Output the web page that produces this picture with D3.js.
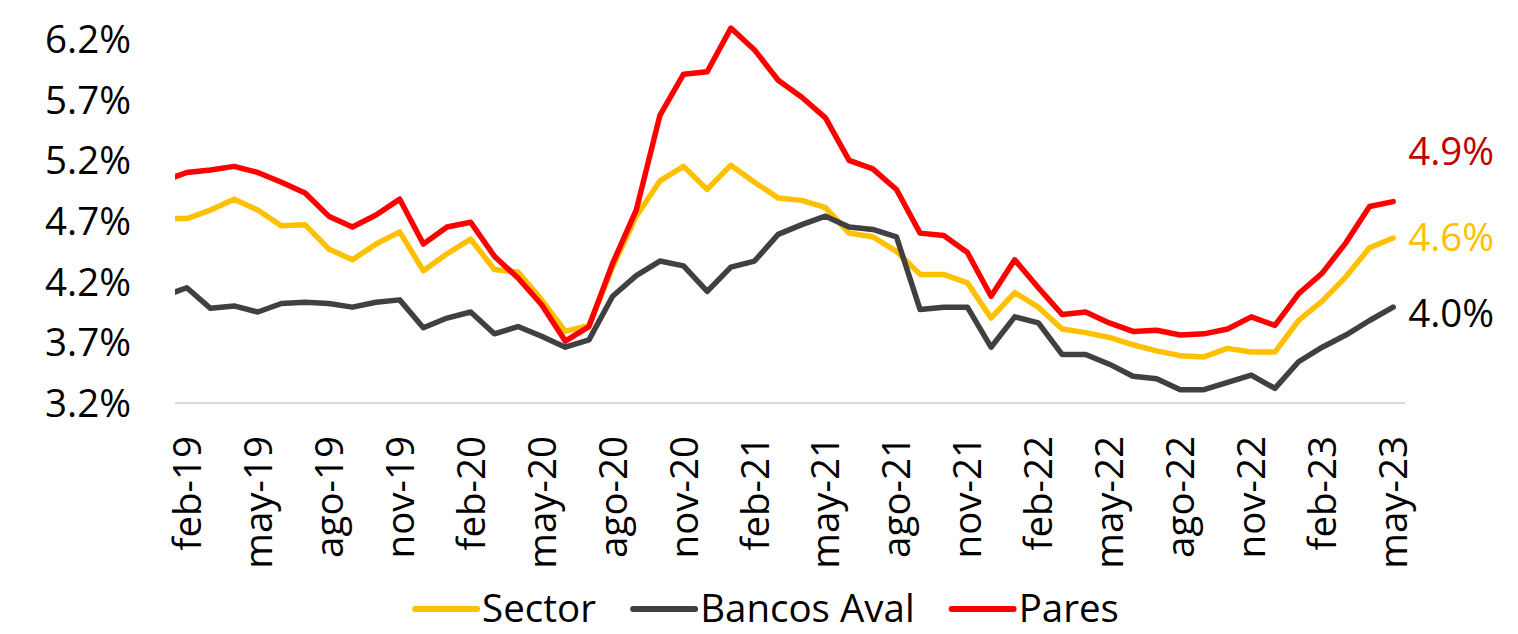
<!DOCTYPE html>
<html>
<head>
<meta charset="utf-8">
<script src="https://cdnjs.cloudflare.com/ajax/libs/d3/7.8.5/d3.min.js"></script>
<style>
    body { margin: 0; background: #fff; }
    #chart { width: 1518px; height: 634px; }
    text { font-family: "Segoe UI", "Open Sans", "Noto Sans", sans-serif; fill: #000; }
    .axis-line { stroke: #d9d9d9; stroke-width: 2; }
    .series { fill: none; stroke-width: 5.5; stroke-linejoin: round; stroke-linecap: round; }
</style>
</head>
<body>
<div id="chart"></div>
<script>
// months ene-19 .. may-23 (ene-19 only shows as the clipped start of the lines)
var months = ["ene-19","feb-19","mar-19","abr-19","may-19","jun-19","jul-19","ago-19","sep-19","oct-19","nov-19","dic-19",
    "ene-20","feb-20","mar-20","abr-20","may-20","jun-20","jul-20","ago-20","sep-20","oct-20","nov-20","dic-20",
    "ene-21","feb-21","mar-21","abr-21","may-21","jun-21","jul-21","ago-21","sep-21","oct-21","nov-21","dic-21",
    "ene-22","feb-22","mar-22","abr-22","may-22","jun-22","jul-22","ago-22","sep-22","oct-22","nov-22","dic-22",
    "ene-23","feb-23","mar-23","abr-23","may-23"];

var sector = [4.72, 4.72, 4.79, 4.88, 4.79, 4.66, 4.67, 4.47, 4.38, 4.51, 4.61, 4.29,
    4.43, 4.55, 4.30, 4.28, 4.05, 3.79, 3.84, 4.32, 4.74, 5.03, 5.15, 4.96,
    5.16, 5.02, 4.89, 4.87, 4.81, 4.60, 4.57, 4.45, 4.26, 4.26, 4.19, 3.90,
    4.11, 3.99, 3.81, 3.78, 3.74, 3.68, 3.63, 3.59, 3.58, 3.65, 3.62, 3.62,
    3.88, 4.04, 4.24, 4.48, 4.56];

var bancosAval = [4.08, 4.15, 3.98, 4.00, 3.95, 4.02, 4.03, 4.02, 3.99, 4.03, 4.05, 3.82,
    3.90, 3.95, 3.77, 3.83, 3.75, 3.66, 3.72, 4.08, 4.25, 4.37, 4.33, 4.12,
    4.32, 4.37, 4.59, 4.67, 4.74, 4.65, 4.63, 4.57, 3.97, 3.99, 3.99, 3.66,
    3.91, 3.86, 3.60, 3.60, 3.52, 3.42, 3.40, 3.31, 3.31, 3.37, 3.43, 3.32,
    3.54, 3.66, 3.76, 3.88, 3.99];

var pares = [5.03, 5.10, 5.12, 5.15, 5.10, 5.02, 4.93, 4.74, 4.65, 4.75, 4.88, 4.51,
    4.65, 4.69, 4.41, 4.23, 4.01, 3.71, 3.83, 4.35, 4.79, 5.57, 5.91, 5.93,
    6.29, 6.11, 5.86, 5.72, 5.55, 5.20, 5.13, 4.96, 4.60, 4.58, 4.44, 4.08,
    4.38, 4.15, 3.93, 3.95, 3.86, 3.79, 3.80, 3.76, 3.77, 3.81, 3.91, 3.84,
    4.10, 4.27, 4.52, 4.82, 4.86];

var seriesNames = ["Sector", "Bancos Aval", "Pares"];
var yTicks = [3.2, 3.7, 4.2, 4.7, 5.2, 5.7, 6.2];
var xTickLabels = ["feb-19","may-19","ago-19","nov-19","feb-20","may-20","ago-20","nov-20","feb-21",
    "may-21","ago-21","nov-21","feb-22","may-22","ago-22","nov-22","feb-23","may-23"];

function LineChart(container){
    this.chart = {};
    this.chart.container = container;
    this.chart.width = 1518;
    this.chart.height = 634;
    this.chart.plot = { left: 175, right: 1405, top: 0, bottom: 403 };
    this.chart.colors = ["#ffc000", "#404040", "#ff0000"];
    this.chart.labelColors = ["#ffc000", "#000000", "#c00000"];
    this.chart.labelShift = [0, 6, -50];   // end labels were nudged by hand in the original
    this.chart.fontSize = 38.5;
    this.init();
}

LineChart.prototype = {
    constructor: LineChart,

    drawLegend: function(){
        var chart = this.chart,
            sample = 62,
            gap = 5,
            spacing = 37;

        var legend = chart.svg.append("g").attr("class", "legend");

        var items = legend.selectAll("g")
            .data(seriesNames)
            .enter().append("g");

        items.append("line")
            .attr("x1", 0).attr("x2", sample)
            .attr("y1", 0).attr("y2", 0)
            .attr("stroke", function(d, i) { return chart.colors[i]; })
            .attr("stroke-width", 6)
            .attr("stroke-linecap", "round");

        items.append("text")
            .attr("x", sample + gap)
            .attr("dy", "0.35em")
            .style("font-size", chart.fontSize + "px")
            .text(function(d) { return d; });

        // lay the items out in a row and center the row
        var offset = 0, widths = [];
        items.each(function() { widths.push(this.getBBox().width); });
        items.attr("transform", function(d, i) {
            var t = "translate(" + offset + ",0)";
            offset += widths[i] + spacing;
            return t;
        });
        var total = offset - spacing;
        legend.attr("transform", "translate(" + (767 - total / 2) + ",609)");
    },

    init: function(){
        var self = this,
            chart = self.chart,
            plot = chart.plot;

        chart.svg = d3.select(chart.container)
            .append("svg")
             .attr("width", chart.width)
             .attr("height", chart.height);

        // one category step, the plot spans 52 shown months
        var step = (plot.right - plot.left) / (months.length - 1);
        chart.x = d3.scalePoint()
            .domain(months)
            .range([plot.left - step / 2, plot.right - step / 2]);

        chart.y = d3.scaleLinear()
            .domain([3.2, 6.2])
            .range([403, 39]);

        chart.svg.append("clipPath")
            .attr("id", "plot-clip")
            .append("rect")
             .attr("x", plot.left)
             .attr("y", plot.top)
             .attr("width", plot.right - plot.left)
             .attr("height", plot.bottom - plot.top + 10);

        // y axis: labels only
        var yAxis = d3.axisLeft(chart.y)
            .tickValues(yTicks)
            .tickSize(0)
            .tickPadding(0)
            .tickFormat(function(d) { return d.toFixed(1) + "%"; });

        var gy = chart.svg.append("g")
            .attr("transform", "translate(131,0)")
            .call(yAxis);
        gy.select(".domain").remove();
        gy.selectAll("text")
            .attr("fill", "#000")
            .style("font-size", chart.fontSize + "px")
            .attr("dy", "0.35em");

        // x axis line and rotated month labels
        chart.svg.append("line")
            .attr("class", "axis-line")
            .attr("x1", plot.left).attr("x2", plot.right)
            .attr("y1", plot.bottom).attr("y2", plot.bottom);

        var xAxis = d3.axisBottom(chart.x)
            .tickValues(xTickLabels)
            .tickSize(0)
            .tickPadding(0);

        var gx = chart.svg.append("g")
            .attr("transform", "translate(0,436)")
            .call(xAxis);
        gx.select(".domain").remove();
        gx.selectAll("text")
            .attr("fill", "#000")
            .style("font-size", chart.fontSize + "px")
            .attr("text-anchor", "end")
            .attr("transform", "rotate(-90)")
            .attr("x", 0)
            .attr("y", 0)
            .attr("dy", "0.35em");

        var data = [sector, bancosAval, pares];

        var line = d3.line()
            .x(function(d, i) { return chart.x(months[i]); })
            .y(function(d) { return chart.y(d); });

        chart.svg.append("g")
            .attr("clip-path", "url(#plot-clip)")
            .selectAll("path")
            .data(data)
            .enter().append("path")
             .attr("class", "series")
             .attr("stroke", function(d, i) { return chart.colors[i]; })
             .attr("d", line);

        // end labels
        var last = months.length - 1;
        chart.svg.append("g")
            .selectAll("text")
            .data(data)
            .enter().append("text")
             .attr("x", chart.x(months[last]) + 15)
             .attr("y", function(d, i) { return chart.y(d[last]) + chart.labelShift[i]; })
             .attr("dy", "0.35em")
             .style("font-size", chart.fontSize + "px")
             .style("fill", function(d, i) { return chart.labelColors[i]; })
             .text(function(d) { return d[last].toFixed(1) + "%"; });

        self.drawLegend();
    }
};

new LineChart("#chart");
</script>
</body>
</html>
